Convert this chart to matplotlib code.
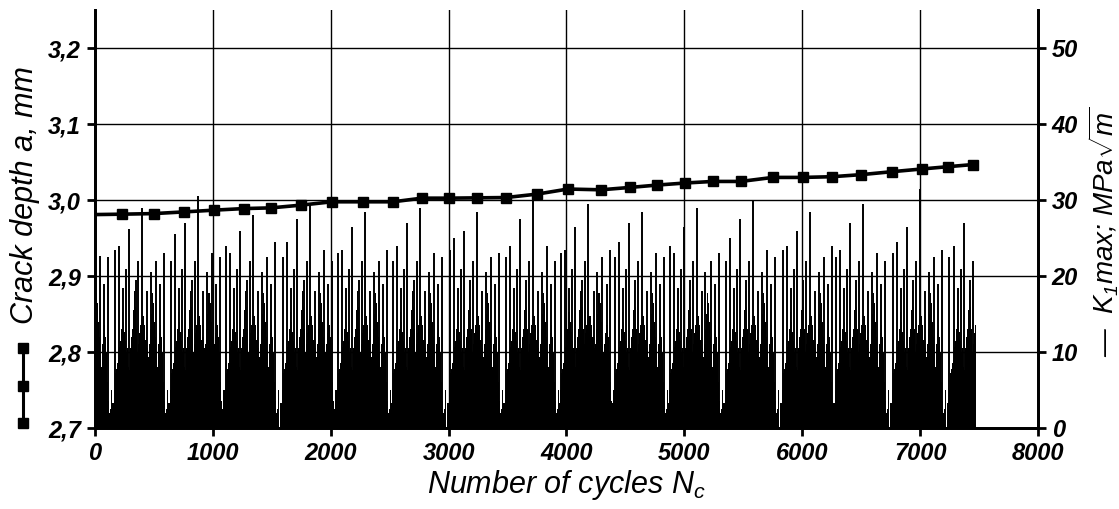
import numpy as np
import matplotlib.pyplot as plt
from matplotlib.lines import Line2D

plt.rcParams['font.family'] = ['Liberation Sans', 'DejaVu Sans']
plt.rcParams['mathtext.fontset'] = 'custom'
plt.rcParams['mathtext.it'] = 'Liberation Sans:italic'
plt.rcParams['mathtext.rm'] = 'Liberation Sans:italic'

# crack depth a (mm) against number of cycles
n_crack = [0, 229, 500, 755, 1009, 1264, 1493, 1747, 2010, 2273, 2528, 2774,
           3003, 3240, 3486, 3749, 4012, 4292, 4538, 4767, 5004, 5242, 5479,
           5751, 6005, 6251, 6497, 6760, 7015, 7235, 7447]
a_crack = [2.9810, 2.9815, 2.9823, 2.9845, 2.9868, 2.9889, 2.9898, 2.9934,
           2.9978, 2.9978, 2.9978, 3.0026, 3.0026, 3.0030, 3.0034, 3.0079,
           3.0146, 3.0136, 3.0167, 3.0198, 3.0225, 3.0246, 3.0246, 3.0299,
           3.0299, 3.0308, 3.0335, 3.0374, 3.0410, 3.0440, 3.0468]

# K1max history: block loading, one block profile
block_starts = [-331, 144, 620, 1086, 1570, 2036, 2503, 2985, 3460, 3930,
                4383, 4849, 5327, 5810, 6260, 6743, 7224]
block_step = 8.5
block_profile = [3.3, 3.3, 5.0, 7.3, 7.8, 8.6, 9.0, 10.7, 11.5, 13.0,
                 15.3, 14.0, 12.6, 11.5, 9.9, 10.5, 8.0, 7.7, 10.5, 12.0,
                 13.0, 15.5, 18.0, 16.0, 13.0, 9.9, 11.0, 12.5, 13.5, 14.3,
                 14.8, 14.7, 13.5, 11.6, 12.0, 10.5, 9.4, 11.0, 13.0, 15.0,
                 17.8, 16.5, 14.0, 12.0, 10.0, 8.0, 11.0, 12.5, 13.5, 12.0,
                 10.0, 6.0, 3.5, 2.0, 2.5, 5.0]
n_end = 7470
spike_offsets = [25, 60, 145, 255, 374, 442]
spike_heights = [
    [22.5, 23.4, 26.2, 28.5, 22.6, 22.5],
    [23.5, 24.0, 26.2, 29.0, 22.0, 23.0],
    [22.0, 25.5, 27.0, 30.5, 23.0, 22.5],
    [24.0, 23.0, 26.0, 28.0, 22.5, 24.5],
    [22.5, 24.5, 27.5, 29.5, 23.5, 22.0],
    [23.0, 23.5, 26.5, 28.5, 22.0, 23.5],
    [22.0, 24.0, 27.0, 29.0, 23.0, 22.5],
    [23.5, 25.0, 26.0, 28.5, 22.5, 23.0],
    [22.5, 24.0, 27.5, 31.0, 24.0, 22.0],
    [23.0, 23.5, 26.5, 29.5, 22.5, 23.5],
    [22.5, 24.5, 27.0, 28.5, 23.0, 22.5],
    [24.0, 23.0, 26.5, 29.0, 22.0, 23.0],
    [22.0, 25.0, 27.5, 30.0, 23.5, 22.5],
    [23.5, 24.0, 26.0, 28.5, 22.5, 24.0],
    [22.5, 23.5, 27.0, 29.5, 23.0, 22.0],
    [23.0, 24.5, 26.5, 31.5, 22.5, 23.5],
    [22.5, 24.0, 27.0, 28.5, 23.0, 22.5],
]
# medium spikes sticking out of each block
mid_offsets = [95, 120, 200, 225, 300, 330, 410]
mid_heights = [18.5, 21.0, 19.5, 22.0, 18.0, 20.5, 19.0]

x_ticks = [0, 1000, 2000, 3000, 4000, 5000, 6000, 7000, 8000]
a_ticks = [2.7, 2.8, 2.9, 3.0, 3.1, 3.2]
a_labels = ['2,7', '2,8', '2,9', '3,0', '3,1', '3,2']
k_ticks = [0, 10, 20, 30, 40, 50]

# build the K1max series from the blocks
k_x, k_y, sp_x, sp_y = [], [], [], []
for b, start in enumerate(block_starts):
    for i, v in enumerate(block_profile):
        xx = start + i * block_step
        if 0 <= xx <= n_end:
            k_x.append(xx)
            k_y.append(v)
    for off, h in list(zip(spike_offsets, spike_heights[b])) + list(zip(mid_offsets, mid_heights)):
        xx = start + off
        if 0 <= xx <= n_end:
            sp_x.append(xx)
            sp_y.append(h)

fig = plt.figure(figsize=(11.19, 5.09), dpi=100)
ax = fig.add_axes([0.0849, 0.159, 0.8427, 0.821])
ax2 = ax.twinx()
ax.set_zorder(ax2.get_zorder() + 1)
ax.patch.set_visible(False)

ax2.bar(k_x, k_y, width=block_step * 1.35, color='black', linewidth=0,
        align='edge', antialiased=False)
ax2.vlines(sp_x, 0, sp_y, color='black', lw=1.4)
ax2.set_ylim(0, 55)
ax2.set_yticks(k_ticks)

ax.plot(n_crack, a_crack, '-', color='black', lw=2.6, marker='s', ms=7,
        markevery=list(range(1, len(n_crack))), zorder=5)
ax.set_xlim(0, 8000)
ax.set_ylim(2.7, 3.25)
ax.set_xticks(x_ticks)
ax.set_yticks(a_ticks)
ax.set_yticklabels(a_labels)
ax.grid(True, color='black', lw=1.0)

for lab in ax.get_xticklabels() + ax.get_yticklabels() + ax2.get_yticklabels():
    lab.set_fontsize(17)
    lab.set_fontweight('bold')
    lab.set_fontstyle('italic')

for a in (ax, ax2):
    a.spines['top'].set_visible(False)
    for s in ('left', 'right', 'bottom'):
        a.spines[s].set_linewidth(2.0)
    a.tick_params(width=2.0, length=6, direction='out', pad=4)

ax.set_xlabel(r'Number of cycles $N_c$', fontsize=22, fontstyle='italic')
ax.xaxis.set_label_coords(0.5, -0.095)
ax.set_ylabel('Crack depth a, mm', fontsize=22, fontstyle='italic')
ax.yaxis.set_label_coords(-0.058, 0.557)
ax2.set_ylabel(u'\u2014  $K_1$max; MPa$\\sqrt{m}$', fontsize=20,
               fontstyle='italic', rotation=90)
ax2.yaxis.set_label_coords(1.052, 0.469)

# legend symbol for the crack depth curve
fig.add_artist(Line2D([0.0206, 0.0206, 0.0206], [0.316, 0.242, 0.169],
                      transform=fig.transFigure, color='black', lw=2.2,
                      marker='s', ms=6.5))

fig.savefig('out.png', dpi=100)
